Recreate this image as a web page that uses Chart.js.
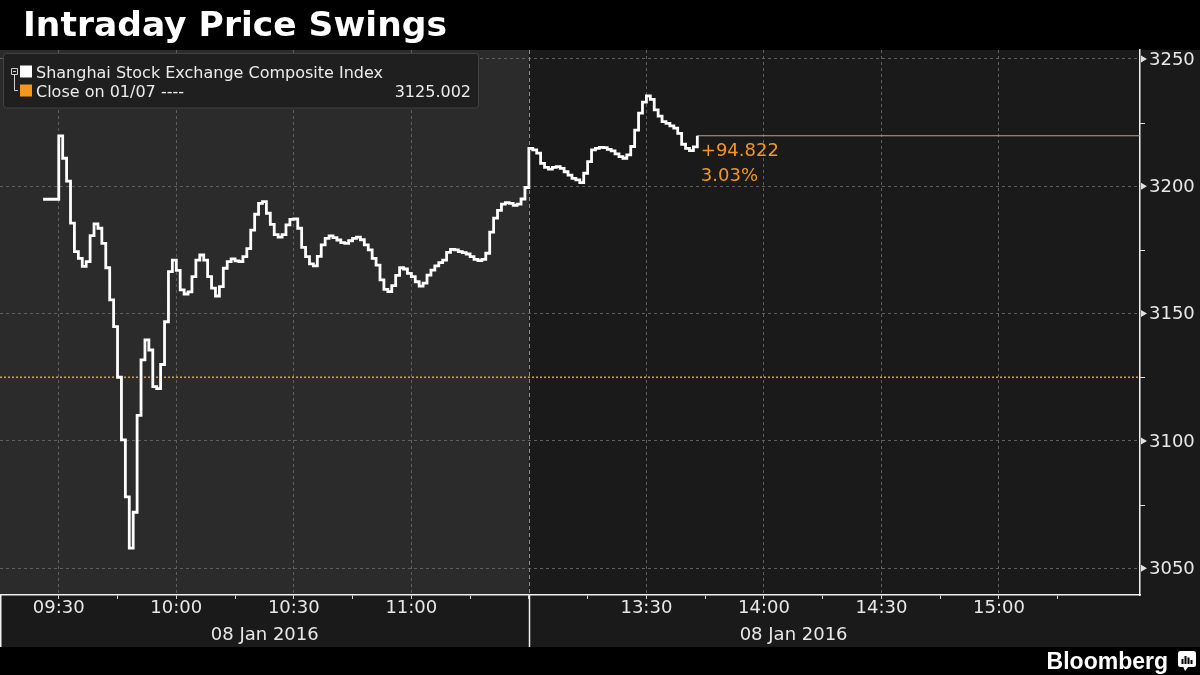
<!DOCTYPE html>
<html>
<head>
<meta charset="utf-8">
<script src="https://cdn.jsdelivr.net/npm/chart.js@4.4.1/dist/chart.umd.min.js"></script>
<style>
html,body{margin:0;padding:0;background:#000;}
#wrap{width:1200px;height:675px;position:relative;}
canvas{display:block;}
</style>
</head>
<body>
<div id="wrap"><canvas id="c" width="1200" height="675"></canvas></div>
<script>
// ---------------- data ----------------
const chartTitle = 'Intraday Price Swings';
const seriesName = 'Shanghai Stock Exchange Composite Index';
const closeName = 'Close on 01/07 ----';
const prevClose = 3125.002;
const sessionDate = '08 Jan 2016';
const brand = 'Bloomberg';

// morning session, one value per minute from 09:26 (call auction) to 11:29
const amStart = '09:26';
const amValues = [
  3194.9, 3194.9, 3194.9, 3194.9,
  3219.8, 3211.0, 3202.0, 3185.5, 3174.3, 3171.7, 3168.5, 3170.4, 3180.6, 3185.2,
  3183.5, 3177.6, 3168.0, 3155.4, 3144.9, 3125.0, 3100.4, 3078.0, 3057.9, 3072.0,
  3110.0, 3131.8, 3139.7, 3135.7, 3121.3, 3120.5, 3130.0, 3146.8, 3166.5, 3171.0,
  3167.0, 3159.3, 3157.7, 3158.5, 3164.5, 3171.0, 3173.0, 3171.0, 3164.5, 3160.0,
  3156.9, 3160.6, 3167.8, 3170.4, 3171.5, 3170.7, 3170.4, 3172.4, 3175.5, 3182.8,
  3189.0, 3193.3, 3194.0, 3189.4, 3185.0, 3181.0, 3180.0, 3181.0, 3184.8, 3187.0,
  3187.2, 3183.5, 3176.0, 3172.4, 3169.5, 3168.7, 3172.5, 3177.0, 3179.5, 3180.5,
  3179.8, 3178.9, 3177.9, 3177.6, 3178.6, 3179.5, 3180.0, 3179.0, 3177.0, 3175.0,
  3171.7, 3169.0, 3163.2, 3159.5, 3158.6, 3161.0, 3165.0, 3168.0, 3167.5, 3165.8,
  3164.5, 3162.5, 3160.8, 3162.0, 3165.1, 3167.1, 3168.7, 3170.0, 3171.0, 3174.0,
  3175.2, 3175.0, 3174.3, 3173.9, 3173.4, 3172.4, 3171.3, 3170.8, 3171.3, 3173.7,
  3182.0, 3187.5, 3190.5, 3193.0, 3193.6, 3193.3, 3192.5, 3193.0, 3195.0, 3199.5
];

// afternoon session, one value per minute from 13:00 to 13:43
const pmStart = '13:00';
const pmValues = [
  3214.9, 3214.3, 3213.0, 3209.0, 3207.4, 3206.7, 3207.4, 3207.7, 3207.0, 3205.7,
  3204.4, 3203.1, 3202.5, 3201.4, 3205.1, 3209.7, 3214.3, 3214.9, 3215.3, 3215.2,
  3214.5, 3213.9, 3212.7, 3211.6, 3211.0, 3212.3, 3215.6, 3222.0, 3228.7, 3233.0,
  3235.5, 3234.1, 3230.0, 3227.5, 3225.4, 3224.7, 3223.7, 3222.8, 3220.8, 3216.5,
  3214.9, 3214.0, 3215.5, 3219.824
];

const xAxisStart = '09:15';
const xAxisEnd = '15:36';
const xTickFirst = '09:30';
const xTickLast = '15:15';
const xTickStepMin = 15;
const xTickLabels = ['09:30', '10:00', '10:30', '11:00', '13:30', '14:00', '14:30', '15:00'];
const yTickLabels = [3050, 3100, 3150, 3200, 3250];
const yMin = 3039.5;
const yMax = 3253.5;

// ---------------- helpers ----------------
const FONT = 'DejaVu Sans';
const ORANGE = '#f5961e';
const AM_OPEN = 9 * 60 + 30, AM_CLOSE = 11 * 60 + 30, PM_OPEN = 13 * 60;
function toMin(hhmm) { // trading minutes since 09:30, lunch break removed
  const [h, m] = hhmm.split(':').map(Number);
  const t = h * 60 + m;
  return t <= AM_CLOSE ? t - AM_OPEN : t - PM_OPEN + (AM_CLOSE - AM_OPEN);
}
function toLabel(min) {
  const lunch = AM_CLOSE - AM_OPEN;
  const t = min <= lunch ? AM_OPEN + min : PM_OPEN + (min - lunch);
  const h = Math.floor(t / 60), m = t % 60;
  return String(h).padStart(2, '0') + ':' + String(m).padStart(2, '0');
}
const labelSet = new Set(xTickLabels);
const gridSet = new Set(xTickLabels.map(toMin));

const amPoints = amValues.map((v, i) => ({ x: toMin(amStart) + i, y: v }));
const pmPoints = pmValues.map((v, i) => ({ x: toMin(pmStart) + i, y: v }));
const linePoints = amPoints.concat(pmPoints);
const lastPt = linePoints[linePoints.length - 1];
const change = lastPt.y - prevClose;
const changePct = change / prevClose * 100;

// ---------------- plugin for panels, legend, labels ----------------
const decor = {
  id: 'decor',
  beforeDraw(chart) {
    const c = chart.ctx, a = chart.chartArea, xs = chart.scales.x;
    c.save();
    c.fillStyle = '#000';
    c.fillRect(0, 0, chart.width, chart.height);
    c.fillStyle = '#1a1a1a';
    c.fillRect(0, a.top, chart.width, xs.bottom - a.top);
    const xd = xs.getPixelForValue(toMin(pmStart));
    c.fillStyle = '#2b2b2b';
    c.fillRect(a.left, a.top, xd - a.left, a.bottom - a.top);
    c.restore();
  },
  beforeDatasetsDraw(chart) {
    const c = chart.ctx, a = chart.chartArea, xs = chart.scales.x;
    const xd = Math.round(xs.getPixelForValue(toMin(pmStart))) + 0.5;
    c.save();
    c.strokeStyle = '#8c8c8c';
    c.lineWidth = 1;
    c.setLineDash([4, 3]);
    c.beginPath(); c.moveTo(xd, a.top); c.lineTo(xd, a.bottom); c.stroke();
    c.restore();
  },
  afterDraw(chart) {
    const c = chart.ctx, a = chart.chartArea, xs = chart.scales.x, ys = chart.scales.y;
    c.save();
    // title
    c.fillStyle = '#ffffff';
    c.font = 'bold 34.5px "' + FONT + '"';
    c.textBaseline = 'alphabetic';
    c.textAlign = 'left';
    c.fillText(chartTitle, 23, 36);

    // y axis arrows and minor ticks
    c.fillStyle = '#e0e0e0';
    c.strokeStyle = '#e0e0e0';
    c.lineWidth = 1;
    yTickLabels.forEach((v, i) => {
      const y = ys.getPixelForValue(v);
      c.beginPath();
      c.moveTo(a.right + 1, y - 3.5); c.lineTo(a.right + 7, y); c.lineTo(a.right + 1, y + 3.5);
      c.closePath(); c.fill();
      if (i < yTickLabels.length - 1) {
        const ym = Math.round(ys.getPixelForValue((v + yTickLabels[i + 1]) / 2)) + 0.5;
        c.beginPath(); c.moveTo(a.right, ym); c.lineTo(a.right + 5, ym); c.stroke();
      }
    });

    // x axis panel separators
    const xd = Math.round(xs.getPixelForValue(toMin(pmStart))) + 0.5;
    c.strokeStyle = '#f0f0f0';
    c.lineWidth = 1.5;
    c.beginPath();
    c.moveTo(a.left + 0.75, a.bottom); c.lineTo(a.left + 0.75, xs.bottom);
    c.moveTo(xd, a.bottom); c.lineTo(xd, xs.bottom);
    c.stroke();

    // session dates
    c.fillStyle = '#e8e8e8';
    c.font = '18px "' + FONT + '"';
    c.textAlign = 'center';
    c.fillText(sessionDate, (a.left + xd) / 2, 640);
    const xl = xs.getPixelForValue(toMin(xTickLast));
    c.fillText(sessionDate, (xd + xl) / 2, 640);

    // change annotation
    const lx = xs.getPixelForValue(lastPt.x), ly = ys.getPixelForValue(lastPt.y);
    c.fillStyle = ORANGE;
    c.textAlign = 'left';
    c.font = '18px "' + FONT + '"';
    c.fillText((change >= 0 ? '+' : '') + change.toFixed(3), lx + 3.5, ly + 20.5);
    c.fillText(changePct.toFixed(2) + '%', lx + 3.5, ly + 45);

    // legend box
    const bx = 3.5, by = 53.5, bw = 475, bh = 54.5;
    c.fillStyle = '#1f1f1f';
    c.strokeStyle = '#424242';
    c.lineWidth = 1;
    c.beginPath();
    c.roundRect(bx, by, bw, bh, 3);
    c.fill(); c.stroke();
    // tree icon
    c.strokeStyle = '#cfcfcf';
    c.beginPath();
    c.rect(11.5, 68.5, 6, 6);
    c.moveTo(13, 71.5); c.lineTo(16, 71.5);
    c.moveTo(14.5, 74.5); c.lineTo(14.5, 90.5); c.lineTo(18, 90.5);
    c.stroke();
    c.fillStyle = '#ffffff';
    c.fillRect(20, 65.5, 12, 12);
    c.fillStyle = ORANGE;
    c.fillRect(20, 84.5, 12, 12);
    c.fillStyle = '#ececec';
    c.font = '16px "' + FONT + '"';
    c.fillText(seriesName, 36, 78);
    c.fillText(closeName, 36, 97);
    c.textAlign = 'right';
    c.fillText(prevClose.toFixed(3), 471, 97);

    // footer brand
    c.fillStyle = '#ffffff';
    c.font = 'bold 23px "Liberation Sans"';
    c.textAlign = 'right';
    c.fillText(brand, 1168, 669);
    // brand icon
    c.beginPath();
    c.roundRect(1178, 651, 18, 16, 2.5);
    c.fill();
    c.beginPath();
    c.moveTo(1183, 666); c.lineTo(1189, 666); c.lineTo(1185, 671); c.closePath();
    c.fill();
    c.fillStyle = '#000';
    [[1181.5, 659, 2], [1184.5, 656, 2], [1187.5, 657.5, 2], [1190.5, 660, 2]].forEach(([x, y, w]) => {
      c.fillRect(x, y, w, 664 - y);
    });
    c.restore();
  }
};

// ---------------- chart ----------------
Chart.defaults.font.family = FONT;
new Chart(document.getElementById('c'), {
  type: 'line',
  data: {
    datasets: [
      {
        label: seriesName,
        data: linePoints,
        borderColor: '#ffffff',
        borderWidth: 2.8,
        stepped: true,
        pointRadius: 0,
        order: 1
      },
      {
        label: closeName,
        data: [{ x: toMin(xAxisStart), y: prevClose }, { x: toMin(xAxisEnd), y: prevClose }],
        borderColor: ORANGE,
        borderWidth: 1.6,
        borderDash: [2, 2],
        pointRadius: 0,
        order: 3
      },
      {
        label: 'last',
        data: [{ x: lastPt.x, y: lastPt.y }, { x: toMin(xAxisEnd), y: lastPt.y }],
        borderColor: '#c8a070',
        borderWidth: 1,
        pointRadius: 0,
        order: 2
      }
    ]
  },
  options: {
    responsive: false,
    devicePixelRatio: 1,
    animation: false,
    events: [],
    layout: { padding: { top: 50, bottom: 28, left: 0, right: 0 } },
    plugins: { legend: { display: false }, title: { display: false }, tooltip: { enabled: false } },
    scales: {
      x: {
        type: 'linear',
        position: 'bottom',
        min: toMin(xAxisStart),
        max: toMin(xAxisEnd),
        afterBuildTicks: s => {
          const t = [];
          for (let v = toMin(xTickFirst); v <= toMin(xTickLast); v += xTickStepMin) t.push({ value: v });
          s.ticks = t;
        },
        afterFit: s => { s.height = 52; },
        grid: {
          color: ctx => (ctx.tick && gridSet.has(ctx.tick.value)) ? '#5f5f5f' : 'rgba(0,0,0,0)',
          lineWidth: 1,
          drawTicks: true,
          tickLength: 4,
          tickColor: '#d8d8d8',
          tickWidth: 1
        },
        border: { color: '#f0f0f0', width: 1.5, dash: [3, 3] },
        ticks: {
          autoSkip: false,
          maxRotation: 0,
          padding: 0,
          color: '#e8e8e8',
          font: { size: 18, lineHeight: 1 },
          callback: v => labelSet.has(toLabel(v)) ? toLabel(v) : ''
        }
      },
      y: {
        type: 'linear',
        position: 'right',
        min: yMin,
        max: yMax,
        afterBuildTicks: s => { s.ticks = yTickLabels.map(v => ({ value: v })); },
        afterFit: s => { s.width = 60; },
        grid: { color: '#5f5f5f', lineWidth: 1, drawTicks: false },
        border: { color: '#f0f0f0', width: 1.5, dash: [3, 3] },
        ticks: {
          padding: 9,
          labelOffset: 1,
          color: '#e8e8e8',
          font: { size: 18, lineHeight: 1 },
          callback: v => String(v)
        }
      }
    }
  },
  plugins: [decor]
});
</script>
</body>
</html>
